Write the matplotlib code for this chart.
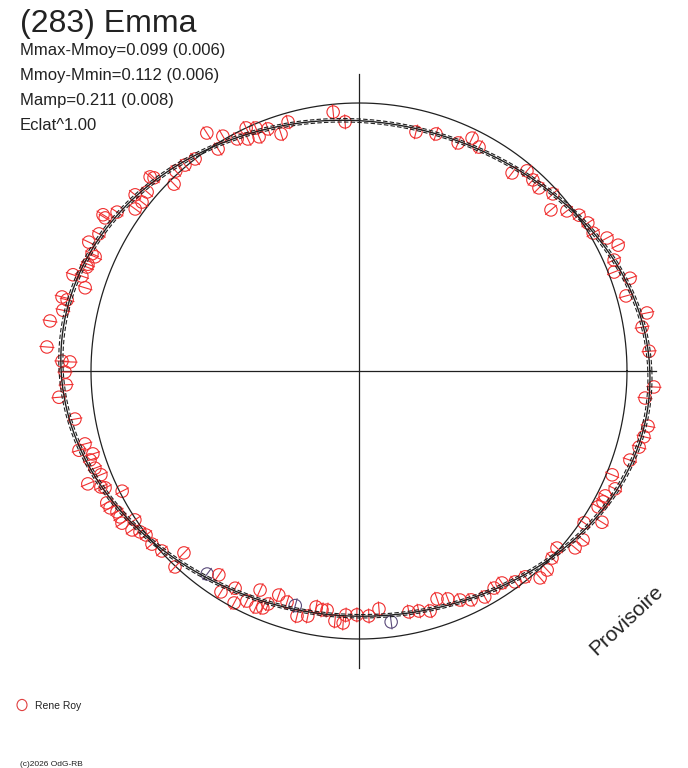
import numpy as np
import matplotlib.pyplot as plt
from matplotlib.collections import LineCollection

plt.rcParams['font.family'] = ['Liberation Sans', 'DejaVu Sans']

# Polar lightcurve of (283) Emma: phase in degrees, relative flux (mean = 1)
phase_deg = [
    95.7, 93.2, 105.9, 108.2, 110.6, 113.1, 113.0, 114.9, 115.6, 117.7,
    120.1, 122.6, 122.4, 127.7, 130.2, 132.5, 134.7, 137.1, 136.7, 139.8,
    142.1, 141.8, 144.1, 146.7, 148.9, 148.6, 152.2, 154.5, 156.3, 156.6,
    158.5, 159.1, 161.4, 161.1, 163.1, 166.0, 166.3, 168.4, 170.8, 175.6,
    178.1, 178.2, 180.2, 182.7, 185.0, 189.6, 194.9, 195.8, 197.3, 198.3,
    200.2, 201.9, 202.6, 204.2, 204.7, 206.9, 207.6, 208.8, 210.2, 211.4,
    212.7, 213.6, 215.0, 216.3, 217.6, 219.9, 222.4, 226.1, 226.8, 233.2,
    235.5, 238.0, 240.3, 241.7, 244.0, 245.7, 246.4, 247.9, 248.7, 250.3,
    252.7, 254.8, 255.8, 258.2, 259.7, 261.2, 262.4, 264.5, 266.4, 266.9,
    269.5, 272.3, 274.8, 277.3, 281.7, 284.0, 286.5, 288.9, 291.3, 293.8,
    296.1, 299.1, 301.9, 304.0, 306.5, 308.9, 311.2, 313.4, 315.9, 318.2,
    320.7, 323.0, 326.0, 328.1, 330.4, 331.8, 333.1, 335.3, 337.7, 341.8,
    344.8, 347.0, 349.2, 354.6, 356.9, 3.9, 8.8, 11.4, 15.7, 18.9,
    21.2, 23.5, 25.9, 28.2, 30.5, 32.9, 35.3, 37.6, 40.0, 42.4,
    45.5, 47.7, 50.0, 52.3, 61.8, 64.1, 66.5, 72.0, 76.6,
]
flux = [
    0.971, 0.931, 0.966, 0.931, 0.965, 0.950, 0.985, 1.000, 0.960, 0.978,
    1.013, 1.054, 0.981, 1.000, 1.006, 1.012, 0.981, 1.064, 1.051, 1.035,
    1.026, 1.063, 1.031, 1.080, 1.106, 1.119, 1.097, 1.117, 1.088, 1.073,
    1.087, 1.087, 1.126, 1.093, 1.068, 1.142, 1.121, 1.128, 1.168, 1.168,
    1.109, 1.079, 1.097, 1.094, 1.124, 1.075, 1.058, 1.086, 1.040, 1.057,
    1.050, 1.038, 1.096, 1.056, 1.043, 0.991, 1.062, 1.060, 1.045, 1.045,
    1.051, 1.004, 1.034, 1.014, 1.003, 1.007, 0.996, 0.942, 1.003, 0.946,
    0.923, 0.972, 0.933, 0.983, 0.955, 0.897, 0.961, 0.954, 0.933, 0.888,
    0.903, 0.907, 0.943, 0.934, 0.895, 0.902, 0.900, 0.937, 0.942, 0.912,
    0.910, 0.915, 0.891, 0.944, 0.918, 0.923, 0.934, 0.899, 0.913, 0.934,
    0.951, 0.965, 0.954, 0.954, 0.979, 0.987, 1.026, 1.022, 1.003, 0.991,
    1.042, 1.047, 1.013, 1.068, 1.026, 1.033, 1.030, 1.052, 1.021, 1.064,
    1.083, 1.091, 1.098, 1.072, 1.102, 1.085, 1.069, 1.096, 1.035, 1.069,
    1.021, 1.038, 1.075, 1.050, 1.014, 1.017, 1.006, 0.979, 0.935, 0.980,
    0.958, 0.964, 0.975, 0.934, 0.948, 0.966, 0.928, 0.930, 0.917,
]
flux_err = 0.028
dark_points = [69, 81, 93]   # a few points drawn darker in the original

title = "(283) Emma"
info_lines = ["Mmax-Mmoy=0.099 (0.006)", "Mmoy-Mmin=0.112 (0.006)",
              "Mamp=0.211 (0.008)", "Eclat^1.00"]
observer = "Rene Roy"
credit = "(c)2026 OdG-RB"
stamp = "Provisoire"

W, H = 688, 768
cx, cy, R = 359, 371, 268   # centre and unit-circle radius in pixels

fig = plt.figure(figsize=(W / 100, H / 100), dpi=100)
ax = fig.add_axes([0, 0, 1, 1])
ax.set_xlim(-cx / R, (W - cx) / R)
ax.set_ylim(-(H - cy) / R, cy / R)
ax.axis('off')

# axes cross and mean-flux circle
L = 1.11
ax.plot([-L, L], [0, 0], color='#202020', lw=0.9)
ax.plot([0, 0], [-L, L], color='#202020', lw=0.9)
t = np.linspace(0, 2 * np.pi, 721)
ax.plot(np.cos(t), np.sin(t), color='#202020', lw=0.9)

# observations with radial error bars
th = np.radians(phase_deg)
f = np.array(flux)
x, y = f * np.cos(th), f * np.sin(th)
segs = [[((fi - flux_err) * np.cos(a), (fi - flux_err) * np.sin(a)),
         ((fi + flux_err) * np.cos(a), (fi + flux_err) * np.sin(a))]
        for fi, a in zip(f, th)]
cols = ['#5a4a7a' if i in dark_points else '#f03030' for i in range(len(f))]
ax.add_collection(LineCollection(segs, colors=cols, linewidths=0.8))
ax.scatter(x, y, s=80, facecolors='none', edgecolors=cols, linewidths=0.8)

# fourier fit of the lightcurve
order = 4
def design(a):
    c = [np.ones_like(a)]
    for k in range(1, order + 1):
        c += [np.cos(k * a), np.sin(k * a)]
    return np.column_stack(c)

coef, *_ = np.linalg.lstsq(design(th), f, rcond=None)
fit = design(t) @ coef
ax.plot(fit * np.cos(t), fit * np.sin(t), color='#202020', lw=1.0)
for s in (0.993, 1.007):
    ax.plot(s * fit * np.cos(t), s * fit * np.sin(t), color='#202020',
            lw=0.8, ls=(0, (4, 2)))

# texts
fig.text(20 / W, 1 - 32 / H, title, fontsize=23, color='#222222', va='baseline')
for i, line in enumerate(info_lines):
    fig.text(20 / W, 1 - (55 + 25 * i) / H, line, fontsize=12,
             color='#222222', va='baseline')

fig.text(626 / W, 1 - 620 / H, stamp, fontsize=15, color='#222222',
         rotation=43, ha='center', va='center')

fig.patches.append(plt.Circle((22 / W, 1 - 705 / H), 5 / W, transform=fig.transFigure,
                              fill=False, edgecolor='#e04040', lw=0.8))
fig.text(35 / W, 1 - 709 / H, observer, fontsize=7.5, color='#222222', va='baseline')
fig.text(20 / W, 1 - 766 / H, credit, fontsize=6, color='#222222', va='baseline')

fig.savefig('out.png', dpi=100)
